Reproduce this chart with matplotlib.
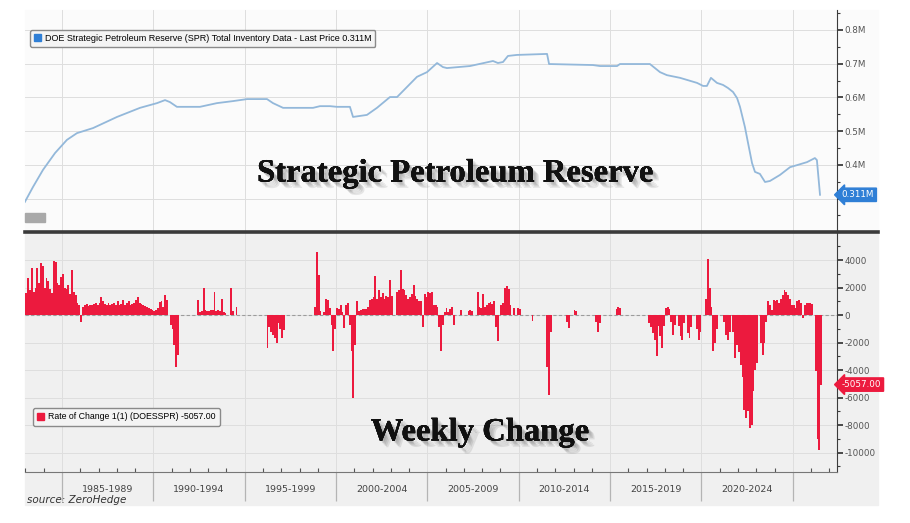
import numpy as np
import matplotlib
matplotlib.use("Agg")
import matplotlib.pyplot as plt
from matplotlib.patches import Rectangle, Patch
from matplotlib.lines import Line2D
from matplotlib.ticker import FuncFormatter
import matplotlib.patheffects as pe
import matplotlib.transforms as mtransforms

plt.rcParams['axes.unicode_minus'] = False
plt.rcParams['font.family'] = ['DejaVu Sans']

# ---- SPR total inventory (million barrels) ----
spr_year = [1982.97, 1983.41, 1983.96, 1984.62, 1985.27, 1985.82, 1986.70, 1988.01,
            1989.27, 1990.20, 1990.64, 1990.91, 1991.29, 1992.55, 1993.48, 1994.36,
            1995.13, 1996.22, 1996.55, 1997.10, 1998.74, 1999.12, 1999.67, 2000.05,
            2000.76, 2000.93, 2001.69, 2002.24, 2002.95, 2003.34, 2004.43, 2004.98,
            2005.53, 2005.85, 2006.07, 2007.33, 2008.59, 2008.86, 2009.14, 2009.41,
            2009.90, 2011.55, 2011.66, 2014.06, 2014.45, 2015.38, 2015.54, 2017.18,
            2017.73, 2018.11, 2018.83, 2019.76, 2020.09, 2020.30, 2020.52, 2020.85,
            2021.18, 2021.45, 2021.73, 2021.95, 2022.11, 2022.38, 2022.55, 2022.77,
            2022.93, 2023.20, 2023.48, 2023.75, 2024.30, 2024.85, 2025.23, 2025.78,
            2026.21, 2026.32, 2026.49]
spr_val = [0.290, 0.334, 0.385, 0.435, 0.474, 0.494, 0.509, 0.542,
           0.569, 0.583, 0.592, 0.586, 0.572, 0.572, 0.583, 0.589,
           0.595, 0.595, 0.583, 0.569, 0.569, 0.574, 0.574, 0.572,
           0.572, 0.542, 0.548, 0.569, 0.601, 0.601, 0.661, 0.675,
           0.702, 0.690, 0.687, 0.693, 0.708, 0.702, 0.705, 0.723,
           0.726, 0.729, 0.699, 0.696, 0.693, 0.693, 0.699, 0.699,
           0.675, 0.666, 0.658, 0.643, 0.634, 0.634, 0.658, 0.643,
           0.637, 0.628, 0.616, 0.598, 0.572, 0.512, 0.465, 0.405,
           0.379, 0.373, 0.349, 0.352, 0.370, 0.393, 0.399, 0.408,
           0.420, 0.414, 0.311]

# ---- weekly change, thousand barrels, 10 readings per year from 1983.0 ----
chg_start = 1983.0
chg_step = 0.1
chg_1983_1989 = [1600, 2700, 1800, 3400, 1700, 2000, 3450, 2300, 3800, 3600,
                 2000, 2700, 2500, 1900, 1600, 3900, 3850, 2300, 2200, 2800,
                 3000, 2000, 1900, 2200, 1500, 3300, 1700, 1450, 850, 700,
                 -500, 600, 700, 800, 650, 750, 700, 800, 900, 700,
                 900, 1300, 1000, 800, 750, 900, 700, 800, 850, 700,
                 1000, 700, 800, 1100, 700, 850, 1000, 700, 800, 900,
                 1100, 1300, 900, 800, 700, 650, 600, 500, 450, 400]
chg_1990_1999 = [300, 400, 500, 950, 1000, 600, 1450, 1100, 0, -700,
                 -1000, -2200, -3750, -2900, 0, 0, 0, 0, 0, 0,
                 0, 0, 0, 0, 1100, 250, 300, 1950, 400, 300,
                 300, 350, 400, 1700, 300, 350, 300, 1200, 250, 150,
                 0, 0, 2000, 300, 0, 600, 0, 0, 0, 0,
                 0, 0, 0, 0, 0, 0, 0, 0, 0, 0,
                 0, 0, -2400, -850, -1200, -1450, -1700, -2050, -600, -1000,
                 -1700, -1100, 0, 0, 0, 0, 0, 0, 0, 0,
                 0, 0, 0, 0, 0, 0, 0, 0, 600, 4550,
                 2900, 300, 0, 200, 1200, 1100, 500, -700, -2650, -1000]
chg_2000_2009 = [500, 450, 700, 200, -970, 700, 850, -700, -2650, -6050,
                 -2200, 1000, 300, 400, 450, 450, 450, 600, 1100, 1200,
                 1300, 2850, 1200, 1800, 1300, 1600, 1200, 1400, 1300, 2550,
                 1400, 0, 0, 1700, 1800, 3250, 1900, 1800, 1450, 1200,
                 1300, 1500, 2200, 1400, 1200, 1000, 1000, -850, 1500, 1300,
                 1700, 1600, 1700, 750, 700, 600, -900, -2650, -700, 250,
                 500, 250, 450, 600, -700, 0, 0, 0, 350, 0,
                 0, 0, 300, 350, 300, 0, 0, 1700, 600, 500,
                 1550, 600, 700, 850, 950, 800, 1000, -900, -1900, 0,
                 700, 900, 1950, 2100, 1900, 700, 0, 500, 0, 500]
chg_2010_2019 = [450, 0, 0, 0, 0, 0, 0, -400, 0, 0,
                 0, 0, 0, 0, 0, -3800, -5800, -1200, 0, 0,
                 0, 0, 0, 0, 0, 0, -500, -950, 0, 0,
                 350, 300, 0, 0, 0, 0, 0, 0, 0, 0,
                 0, 0, -500, -1250, -600, 0, 0, 0, 0, 0,
                 0, 0, 0, 450, 600, 500, 0, 0, 0, 0,
                 0, 0, 0, 0, 0, 0, 0, 0, 0, 0,
                 0, -600, -900, -1300, -1800, -3000, -800, -1500, -2400, -800,
                 500, 600, 450, -500, -1450, -700, 0, -800, -1500, -1800,
                 -600, 0, -1300, -1700, -900, 0, 0, -1000, -1800, -1200]
chg_2020_2026 = [0, 0, 1200, 4050, 2000, 600, -2650, -2000, -1000, 0,
                 0, 0, -500, -1450, -1800, -1200, 0, -1200, -3100, -2200,
                 -2700, -3600, -4500, -6900, -7500, -7000, -8250, -8000, -5500, -4000,
                 -3500, 0, -2000, -2900, -2000, -500, 1000, 700, 350, 1100,
                 1000, 1100, 900, 1200, 1450, 1800, 1700, 1450, 1200, 700,
                 700, 500, 1000, 1100, 850, -200, 750, 900, 850, 850,
                 800, 0, -4100, -9000, -9800, -5057]

period_labels = ['1985-1989', '1990-1994', '1995-1999', '2000-2004',
                 '2005-2009', '2010-2014', '2015-2019', '2020-2024']
last_spr = 0.311
last_chg = -5057.00

BLUE_LINE = '#93b8da'
RED = '#ec1a3e'
GRID = '#dedede'
AXC = '#3c3c3c'
TXT = '#555555'

chg = np.array(chg_1983_1989 + chg_1990_1999 + chg_2000_2009 + chg_2010_2019 + chg_2020_2026)
chg_year = chg_start + chg_step * np.arange(len(chg))

W, H = 910, 523
fig = plt.figure(figsize=(W / 100, H / 100), dpi=100)


def fig_rect(x0, y0, x1, y1, color, z=-5):
    fig.patches.append(Rectangle((x0 / W, 1 - y1 / H), (x1 - x0) / W, (y1 - y0) / H,
                                 transform=fig.transFigure, color=color, zorder=z))


# soft drop shadow: a few stacked faint shadows
soft_shadow = [pe.withSimplePatchShadow(offset=(o, -o), shadow_rgbFace='#555555', alpha=0.13)
               for o in (1.5, 2.5, 3.5, 4.5)] + [pe.Normal()]

fig_rect(25, 10, 878, 231, '#fbfbfb')
fig_rect(25, 231, 878, 505, '#f0f0f0')

ax1 = fig.add_axes([25 / W, 1 - 231 / H, 812 / W, 221 / H])
ax2 = fig.add_axes([25 / W, 1 - 472 / H, 812 / W, 240 / H])

xlim = (1982.975, 2027.42)
majors = np.arange(1985, 2026, 5)
minors = np.arange(1983, 2028, 1)

# ---- top: inventory line ----
ax1.set_facecolor('#fbfbfb')
ax1.plot(spr_year, spr_val, color=BLUE_LINE, lw=1.3, zorder=3)
ax1.set_xlim(*xlim)
ax1.set_ylim(0.2036, 0.8593)
ax1.set_xticks(majors)
ax1.set_yticks(np.arange(0.3, 0.81, 0.1))
ax1.set_yticks(np.arange(0.25, 0.86, 0.05), minor=True)
ax1.yaxis.tick_right()
# 0.3M label sits behind the last-value tag in the original
ax1.yaxis.set_major_formatter(FuncFormatter(lambda v, p: '' if v < 0.35 else f'{v:.1f}M'))
ax1.grid(True, which='major', color=GRID, lw=0.7)
ax1.tick_params(axis='x', which='both', length=0, labelbottom=False)
ax1.tick_params(axis='y', which='major', direction='out', length=4, width=1.3,
                color=AXC, labelsize=6.3, labelcolor=TXT, pad=1.5)
ax1.tick_params(axis='y', which='minor', direction='out', length=2.5, width=0.8, color=AXC)
for s in ['left', 'top', 'bottom']:
    ax1.spines[s].set_visible(False)
ax1.spines['right'].set_color(AXC)

leg1 = ax1.legend(handles=[Patch(color='#2f7fd6')],
                  labels=['DOE Strategic Petroleum Reserve (SPR) Total Inventory Data - Last Price 0.311M'],
                  loc='upper left', bbox_to_anchor=(0.006, 0.91), borderaxespad=0,
                  handlelength=0.8, handleheight=0.8, handletextpad=0.4,
                  borderpad=0.45, frameon=True, fancybox=True, framealpha=1,
                  facecolor='#f4f4f4', edgecolor='#8a8a8a',
                  prop={'family': 'Liberation Sans', 'size': 6.5})
leg1.get_frame().set_linewidth(1.0)

ax1.text(1.006, last_spr, f'{last_spr:.3f}M',
         transform=mtransforms.blended_transform_factory(ax1.transAxes, ax1.transData),
         ha='left', va='center', fontsize=6.3, color='white', zorder=5, clip_on=False,
         bbox=dict(boxstyle='larrow,pad=0.25', fc='#2f7fd6', ec='#2f7fd6'))

ax1.text(0.5296, 0.262, 'Strategic Petroleum Reserve', transform=ax1.transAxes,
         ha='center', va='center', fontsize=23.5, fontweight='bold',
         family='Liberation Serif', color='#111111', zorder=6,
         path_effects=soft_shadow)

# ---- bottom: weekly change bars ----
ax2.set_facecolor('#f0f0f0')
ax2.bar(chg_year, chg, width=chg_step, align='edge', color=RED, lw=0, zorder=3)
ax2.axhline(0, color='#9c9c9c', lw=0.8, ls=(0, (3, 2)), zorder=2)
ax2.set_xlim(*xlim)
ax2.set_ylim(-11414, 6036)
ax2.set_yticks(np.arange(-10000, 4001, 2000))
ax2.set_yticks(np.arange(-11000, 6001, 1000), minor=True)
ax2.yaxis.tick_right()
ax2.yaxis.set_major_formatter(FuncFormatter(lambda v, p: f'{v:.0f}'))
ax2.set_xticks(majors)
ax2.set_xticks(minors, minor=True)
ax2.grid(True, which='major', color=GRID, lw=0.7)
ax2.tick_params(axis='x', which='major', direction='out', length=21, width=0.9,
                color='#b4b4b4', labelbottom=False)
ax2.tick_params(axis='x', which='minor', direction='in', length=3, width=0.8, color='#555555')
ax2.tick_params(axis='y', which='major', direction='out', length=4, width=1.3,
                color=AXC, labelsize=6.3, labelcolor=TXT, pad=1.5)
ax2.tick_params(axis='y', which='minor', direction='out', length=2.5, width=0.8, color=AXC)
for s in ['left', 'top']:
    ax2.spines[s].set_visible(False)
ax2.spines['right'].set_color(AXC)
ax2.spines['bottom'].set_color('#777777')

sec = ax2.secondary_xaxis('bottom')
sec.set_xticks(majors[:-1] + 2.5, labels=period_labels)
sec.tick_params(length=0, pad=9, labelsize=6.8, labelcolor='#444444')
sec.spines['bottom'].set_visible(False)

leg2 = ax2.legend(handles=[Patch(color=RED)],
                  labels=[f'Rate of Change 1(1) (DOESSPR) {last_chg:.2f}'],
                  loc='upper left', bbox_to_anchor=(0.01, 0.267), borderaxespad=0,
                  handlelength=0.8, handleheight=0.8, handletextpad=0.4,
                  borderpad=0.5, frameon=True, fancybox=True, framealpha=1,
                  facecolor='#f4f4f4', edgecolor='#8a8a8a',
                  prop={'family': 'Liberation Sans', 'size': 6.3})
leg2.get_frame().set_linewidth(1.0)

ax2.text(1.006, last_chg, f'{last_chg:.2f}',
         transform=mtransforms.blended_transform_factory(ax2.transAxes, ax2.transData),
         ha='left', va='center', fontsize=6.3, color='white', zorder=5, clip_on=False,
         bbox=dict(boxstyle='larrow,pad=0.25', fc=RED, ec=RED))

ax2.text(0.5603, 0.1667, 'Weekly Change', transform=ax2.transAxes,
         ha='center', va='center', fontsize=23.5, fontweight='bold',
         family='Liberation Serif', color='#111111', zorder=6,
         path_effects=soft_shadow)

# thick separator between panels
fig.lines.append(Line2D([25 / W, 878 / W], [1 - 231.5 / H, 1 - 231.5 / H],
                        transform=fig.transFigure, color='#3a3a3a', lw=2.6))
# small grey button at lower-left of top panel
fig_rect(25, 213, 45, 222, '#a9a9a9', z=5)

fig.text(27 / W, 1 - 500 / H, 'source: ZeroHedge', style='italic', fontsize=7.5,
         color='#333333', va='center', ha='left')

fig.savefig('out.png', dpi=100)
